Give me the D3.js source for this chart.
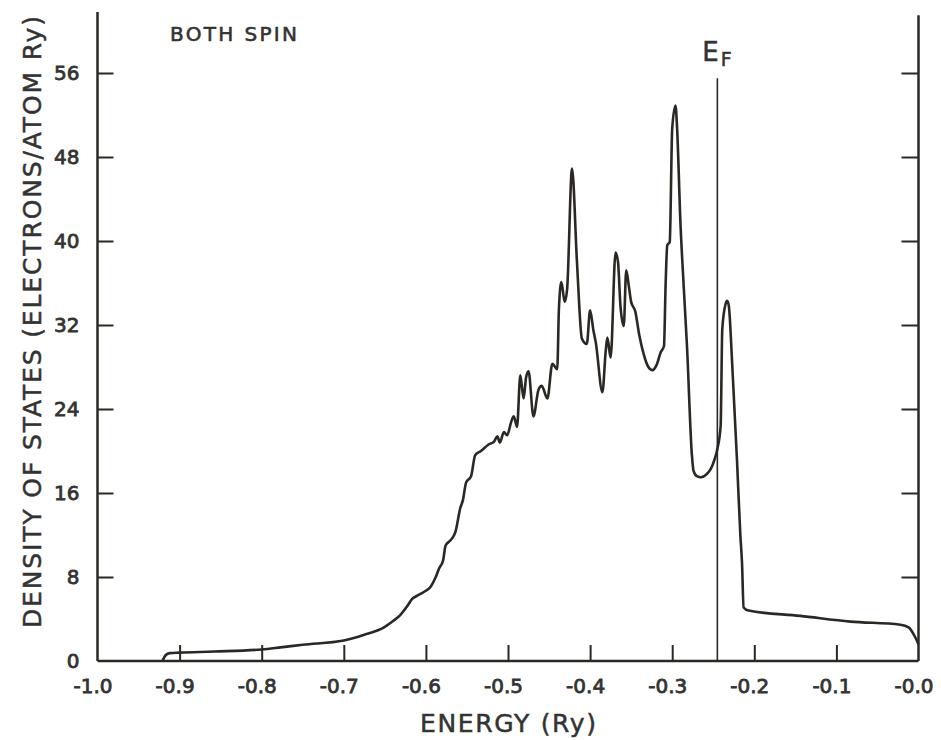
<!DOCTYPE html>
<html><head><meta charset="utf-8">
<script src="https://cdn.jsdelivr.net/npm/d3@7"></script>
<style>
html,body{margin:0;padding:0;background:#fff;}
svg text{font-family:"DejaVu Sans",sans-serif;fill:#333;}
</style></head>
<body>
<svg id="chart" width="941" height="740"></svg>
<script>
// ---- data ----
const energy = [-0.921,-0.917,-0.912,-0.900,-0.858,-0.800,-0.777,-0.750,-0.700,-0.675,-0.651,-0.640,-0.631,-0.622,-0.617,-0.611,-0.602,-0.594,-0.588,-0.584,-0.579,-0.576,-0.570,-0.564,-0.558,-0.555,-0.551,-0.545,-0.540,-0.533,-0.524,-0.517,-0.513,-0.510,-0.505,-0.501,-0.496,-0.493,-0.489,-0.485,-0.481,-0.478,-0.475,-0.469,-0.463,-0.459,-0.452,-0.446,-0.440,-0.438,-0.435,-0.431,-0.428,-0.422,-0.416,-0.410,-0.404,-0.400,-0.396,-0.393,-0.385,-0.381,-0.379,-0.375,-0.369,-0.366,-0.363,-0.359,-0.356,-0.353,-0.350,-0.345,-0.340,-0.335,-0.329,-0.324,-0.319,-0.314,-0.310,-0.308,-0.306,-0.303,-0.300,-0.296,-0.294,-0.290,-0.286,-0.282,-0.276,-0.274,-0.270,-0.265,-0.258,-0.253,-0.248,-0.245,-0.241,-0.239,-0.235,-0.233,-0.231,-0.227,-0.221,-0.217,-0.215,-0.213,-0.207,-0.144,-0.083,-0.022,-0.012,-0.004,0.000];
const dos = [0,0.55,0.75,0.8,0.9,1.1,1.3,1.55,1.95,2.5,3.2,3.8,4.4,5.3,5.9,6.2,6.6,7.1,8.0,8.8,9.6,11.0,11.5,12.3,14.6,15.3,17.0,17.6,19.6,20.0,20.6,20.9,21.4,20.8,21.8,21.5,22.8,23.3,22.3,27.2,25.0,27.0,27.6,23.3,25.8,26.2,25.0,28.3,27.8,33.5,36.1,34.2,35.4,46.9,38.0,30.7,30.2,33.4,31.5,30.3,25.6,29.5,30.8,28.9,38.9,38.0,33.8,31.9,37.2,35.8,34.2,33.3,31.0,29.3,28.0,27.7,28.2,29.4,30.0,35.9,39.6,39.9,50.7,52.9,50.7,41.8,35.7,30.0,19.6,18.1,17.6,17.5,17.8,18.3,19.3,20.2,22.4,31.6,34.0,34.3,33.8,28.4,19.0,12.0,9.4,5.1,4.8,4.3,3.75,3.46,3.2,2.26,1.6];
const xTickValues = [-1.0,-0.9,-0.8,-0.7,-0.6,-0.5,-0.4,-0.3,-0.2,-0.1,0.0];
const xTickLabels = ["-1.0","-0.9","-0.8","-0.7","-0.6","-0.5","-0.4","-0.3","-0.2","-0.1","-0.0"];
const yTickValues = [0,8,16,24,32,40,48,56];
const yTickLabels = ["0","8","16","24","32","40","48","56"];
const fermiEnergy = -0.245;
const fermiTop = 55.5;
const yAxisTop = 61.8;
const title = "BOTH SPIN";
const xTitle = "ENERGY (Ry)";
const yTitle = "DENSITY OF STATES (ELECTRONS/ATOM Ry)";

// ---- layout ----
const ink = "#2b2824";
const svg = d3.select("#chart");
const x = d3.scaleLinear().domain([-1, 0]).range([97.5, 918.5]);
const y = d3.scaleLinear().domain([0, 62]).range([661, 10]);

// frame lines
svg.append("line").attr("x1", x(-1)).attr("x2", x(0)).attr("y1", y(0)).attr("y2", y(0))
  .attr("stroke", ink).attr("stroke-width", 2.5);
svg.append("line").attr("x1", x(-1)).attr("x2", x(-1)).attr("y1", y(0)).attr("y2", y(yAxisTop))
  .attr("stroke", ink).attr("stroke-width", 2.5);
svg.append("line").attr("x1", x(0)).attr("x2", x(0)).attr("y1", y(0)).attr("y2", y(yAxisTop - 0.3))
  .attr("stroke", ink).attr("stroke-width", 2.5);

// bottom axis (inward ticks)
const gx = svg.append("g").attr("transform", `translate(0,${y(0)})`)
  .call(d3.axisBottom(x).tickValues(xTickValues).tickSize(-16).tickPadding(0)
    .tickFormat((d, i) => xTickLabels[i]));
gx.select(".domain").remove();
gx.selectAll(".tick line").attr("stroke", ink).attr("stroke-width", 2)
  .attr("display", d => (d === -1 || d === 0) ? "none" : null);
gx.selectAll(".tick text").attr("font-size", 20).attr("font-family", "DejaVu Sans")
  .attr("fill", "#333").attr("stroke", "#333").attr("stroke-width", 0.8)
  .attr("dx", -5).attr("y", 32).attr("dy", 0);

// left axis
const gyl = svg.append("g").attr("transform", `translate(${x(-1)},0)`)
  .call(d3.axisLeft(y).tickValues(yTickValues).tickSize(-16).tickPadding(0)
    .tickFormat((d, i) => yTickLabels[i]));
gyl.select(".domain").remove();
gyl.selectAll(".tick line").attr("stroke", ink).attr("stroke-width", 2)
  .attr("display", d => d === 0 ? "none" : null);
gyl.selectAll(".tick text").attr("font-size", 20).attr("font-family", "DejaVu Sans")
  .attr("fill", "#333").attr("stroke", "#333").attr("stroke-width", 0.8)
  .attr("x", -18);

// right axis (ticks only)
const gyr = svg.append("g").attr("transform", `translate(${x(0)},0)`)
  .call(d3.axisRight(y).tickValues(yTickValues.filter(v => v > 0)).tickSize(-17).tickFormat(""));
gyr.select(".domain").remove();
gyr.selectAll(".tick line").attr("stroke", ink).attr("stroke-width", 2);

// Fermi line
svg.append("line").attr("x1", x(fermiEnergy)).attr("x2", x(fermiEnergy))
  .attr("y1", y(0)).attr("y2", y(fermiTop)).attr("stroke", ink).attr("stroke-width", 1.6);
const ef = svg.append("text").attr("x", x(fermiEnergy) - 15).attr("y", y(fermiTop) - 17)
  .attr("font-size", 26).attr("stroke", "#333").attr("stroke-width", 0.5);
ef.append("tspan").text("E");
ef.append("tspan").attr("font-size", 19).attr("dx", 2).attr("dy", 5).text("F");

// curve
const pts = energy.map((e, i) => [e, dos[i]]);
const line = d3.line().x(d => x(d[0])).y(d => y(d[1])).curve(d3.curveMonotoneX);
svg.append("path").datum(pts).attr("d", line).attr("fill", "none")
  .attr("stroke", ink).attr("stroke-width", 2.6).attr("stroke-linejoin", "round");

// texts
svg.append("text").attr("x", 170).attr("y", 41).attr("font-size", 20)
  .attr("textLength", 127).attr("lengthAdjust", "spacing")
  .attr("stroke", "#333").attr("stroke-width", 0.6).text(title);
svg.append("text").attr("x", 508).attr("y", 732).attr("text-anchor", "middle")
  .attr("font-size", 25).attr("textLength", 176).attr("lengthAdjust", "spacing")
  .attr("stroke", "#333").attr("stroke-width", 0.5).text(xTitle);
svg.append("text").attr("transform", "translate(41,322) rotate(-90)").attr("text-anchor", "middle")
  .attr("font-size", 25).attr("textLength", 612).attr("lengthAdjust", "spacing")
  .attr("stroke", "#333").attr("stroke-width", 0.5).text(yTitle);
</script>
</body></html>
